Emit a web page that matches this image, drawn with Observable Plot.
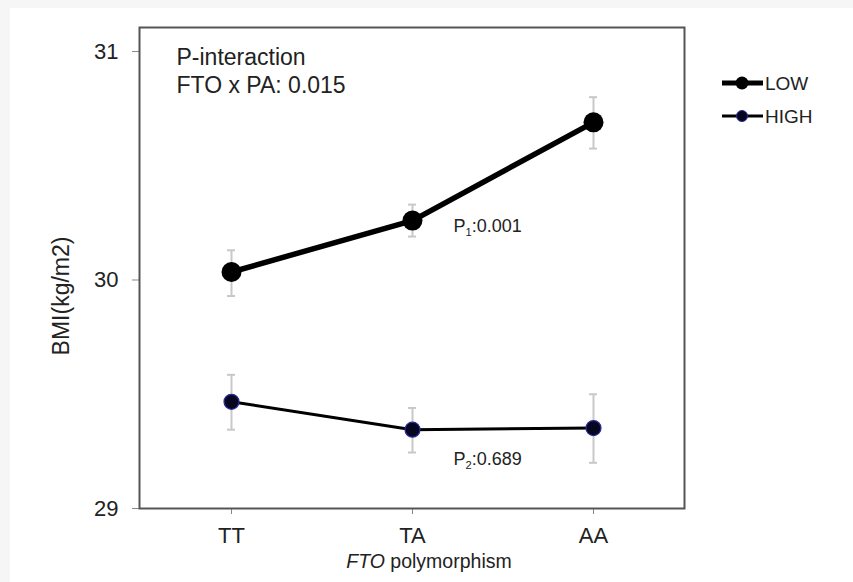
<!DOCTYPE html>
<html><head><meta charset="utf-8">
<script src="https://cdn.jsdelivr.net/npm/d3@7"></script>
<script src="https://cdn.jsdelivr.net/npm/@observablehq/plot@0.6"></script>
<style>
body{margin:0;background:#f6f6f6;font-family:"Liberation Sans",Arial,sans-serif;}
#wrap{position:relative;width:853px;height:582px;overflow:hidden;}
#paper{position:absolute;left:10px;top:8px;right:0;bottom:0;background:#fff;}
#chart{position:absolute;left:0;top:0;}
#legend{position:absolute;left:715px;top:66px;}
</style></head><body>
<div id="wrap"><div id="paper"></div><div id="chart"></div><div id="legend"></div></div>
<script>
const genotypes = ["TT", "TA", "AA"];
const groups = ["LOW", "HIGH"];
const lowMean  = [30.035, 30.26, 30.69];
const lowLower = [29.93, 30.19, 30.575];
const lowUpper = [30.13, 30.33, 30.80];
const highMean  = [29.467, 29.345, 29.352];
const highLower = [29.345, 29.245, 29.20];
const highUpper = [29.585, 29.44, 29.50];
const yTicks = [29, 30, 31];
const pLabels = ["P1:0.001", "P2:0.689"];
const pAt = ["TA", "TA"];
const pValueY = [30.234, 29.214];
const interactionText = ["P-interaction", "FTO x PA: 0.015"];
const yLabel = "BMI(kg/m2)";
const xLabel = "FTO polymorphism";

const low = genotypes.map((g, i) => ({g, group: "LOW", mean: lowMean[i], lo: lowLower[i], hi: lowUpper[i]}));
const high = genotypes.map((g, i) => ({g, group: "HIGH", mean: highMean[i], lo: highLower[i], hi: highUpper[i]}));
const rows = low.concat(high);
const pAnn = pLabels.map((t, i) => ({g: pAt[i], y: pValueY[i], t}));

const font = "'Liberation Sans', Arial, sans-serif";
const errColor = "#c8c8c8";
const textColor = "#222";

const plot = Plot.plot({
  width: 853, height: 582,
  marginLeft: 139, marginRight: 169, marginTop: 27, marginBottom: 74,
  style: {background: "transparent", fontFamily: font, fontSize: "22px", color: textColor, overflow: "visible"},
  x: {type: "point", domain: genotypes, padding: 0.5},
  y: {domain: [29, 31.105]},
  marks: [
    Plot.ruleX(rows, {x: "g", y1: "lo", y2: "hi", stroke: errColor, strokeWidth: 2}),
    Plot.ruleY(rows, {x1: "g", x2: "g", y: "lo", insetLeft: -4, insetRight: -4, stroke: errColor, strokeWidth: 2}),
    Plot.ruleY(rows, {x1: "g", x2: "g", y: "hi", insetLeft: -4, insetRight: -4, stroke: errColor, strokeWidth: 2}),
    Plot.line(low, {x: "g", y: "mean", stroke: "#000", strokeWidth: 5.5}),
    Plot.line(high, {x: "g", y: "mean", stroke: "#000", strokeWidth: 3}),
    Plot.dot(low, {x: "g", y: "mean", r: 10, fill: "#000"}),
    Plot.dot(high, {x: "g", y: "mean", r: 7.5, fill: "#06061f", stroke: "#2a2a9a", strokeWidth: 1.2}),
    Plot.axisY({ticks: yTicks, tickFormat: d => String(d), tickSize: 7, tickPadding: 14, stroke: "#888", fontSize: 22, label: null}),
    Plot.axisX({tickSize: 6, tickPadding: 13, stroke: "#888", fontSize: 22, label: null}),
    Plot.frame({stroke: "#555", strokeWidth: 2}),
    Plot.text([yLabel], {frameAnchor: "left", textAnchor: "middle", dx: -78, dy: 28, rotate: -90, fontSize: 23, fill: textColor}),
    Plot.text([xLabel], {frameAnchor: "bottom", dx: 17, dy: 59, fontSize: 19.5, fill: textColor}),
    Plot.text([interactionText.join("\n")], {frameAnchor: "top-left", dx: 37, dy: 17.5, textAnchor: "start", lineAnchor: "top", fontSize: 23, lineHeight: 1.22, fill: textColor}),
    Plot.text(pAnn, {x: "g", y: "y", text: "t", dx: 41, textAnchor: "start", fontSize: 18, fill: textColor})
  ]
});
const svg = d3.select(plot);
svg.selectAll("text").filter(function() { return this.textContent === xLabel; })
  .each(function() {
    const t = d3.select(this);
    const [a, ...rest] = xLabel.split(" ");
    t.text(null);
    t.append("tspan").attr("font-style", "italic").text(a);
    t.append("tspan").text(" " + rest.join(" "));
  });
svg.selectAll("text").filter(function() { return /^P\d:/.test(this.textContent); })
  .each(function() {
    const s = this.textContent;
    const t = d3.select(this);
    t.text(null);
    t.append("tspan").text(s[0]);
    t.append("tspan").attr("font-size", "0.62em").attr("dy", "0.35em").text(s[1]);
    t.append("tspan").attr("dy", "-0.22em").text(s.slice(2));
  });
document.getElementById("chart").appendChild(plot);

// legend
const lg = d3.select("#legend").append("svg").attr("width", 130).attr("height", 70)
  .style("font-family", font).style("font-size", "19px");
const legendStyle = {LOW: {w: 5, r: 6.5, fill: "#000", stroke: "none"}, HIGH: {w: 3, r: 5.5, fill: "#06061f", stroke: "#2a2a9a"}};
groups.forEach((gname, i) => {
  const s = legendStyle[gname];
  const yy = 17 + i * 33;
  const row = lg.append("g");
  row.append("line").attr("x1", 7).attr("x2", 48).attr("y1", yy).attr("y2", yy).attr("stroke", "#000").attr("stroke-width", s.w);
  row.append("circle").attr("cx", 27).attr("cy", yy).attr("r", s.r).attr("fill", s.fill).attr("stroke", s.stroke);
  row.append("text").attr("x", 50).attr("y", yy).attr("dy", "0.35em").attr("fill", textColor).text(gname);
});
</script>
</body></html>
